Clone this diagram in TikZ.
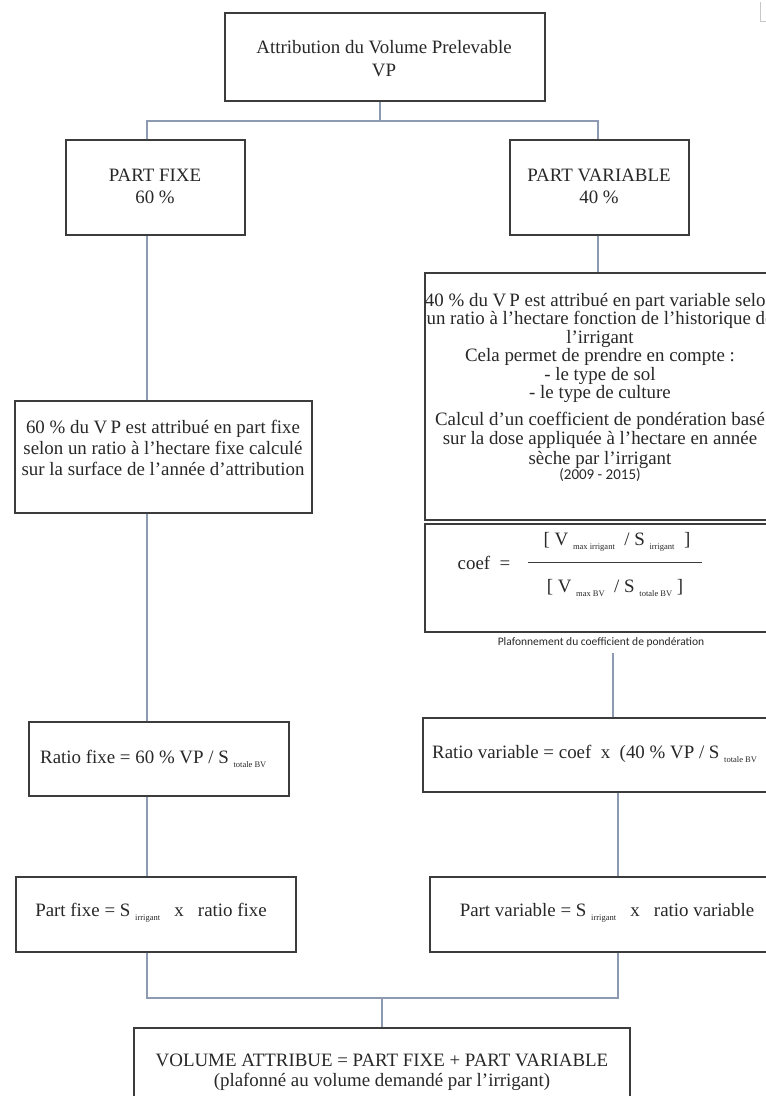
\documentclass[tikz,border=0pt]{standalone}
\usepackage{fontspec}
\setmainfont{Liberation Serif}
\newfontfamily\sansf{Carlito}
\definecolor{boxc}{RGB}{60,60,60}
\definecolor{connc}{RGB}{140,155,178}
\definecolor{txtc}{RGB}{40,40,40}
\newcommand\subt[1]{\raisebox{-3.5pt}{\fontsize{8.5}{9}\selectfont #1}}
\tikzset{
  box/.style={draw=boxc, line width=1.2pt, rectangle, inner sep=0pt, fill=white},
  conn/.style={draw=connc, line width=1.1pt},
  txt/.style={inner sep=0pt, align=center, text=txtc},
  big/.style={font=\fontsize{18.9}{#1}\selectfont},
  big/.default=21
}
\begin{document}
\begin{tikzpicture}[x=1pt,y=-1pt]
\useasboundingbox (0,0) rectangle (766,1096);
\fill[white] (0,0) rectangle (766,1096);
\clip (0,0) rectangle (766,1096);
% corner mark
\draw[black!22, line width=0.8pt] (760,2) -- (760,21) -- (767,21);
% coordinates of connector columns
\coordinate (xt) at (380,0);
\coordinate (xl) at (147,0);
\coordinate (xr) at (598,0);
\coordinate (xr2) at (613,0);
\coordinate (xr3) at (618,0);
\coordinate (xc) at (382,0);
\coordinate (j1) at (380,121);
\coordinate (j2) at (382,998);
% boxes
\node[box, minimum width=320pt, minimum height=88pt] (top) at (385,57) {};
\node[box, minimum width=179pt, minimum height=95pt] (pfixe) at (155.5,187.5) {};
\node[box, minimum width=179pt, minimum height=95pt] (pvar) at (599.5,187.5) {};
\node[box, minimum width=297pt, minimum height=112pt] (fixe) at (163.5,457) {};
\node[box, minimum width=260pt, minimum height=74pt] (rfixe) at (159,759) {};
\node[box, minimum width=280pt, minimum height=75pt] (partf) at (156,914.5) {};
\node[box, minimum width=375pt, minimum height=247pt] (varbox) at (612.5,396.5) {};
\node[box, minimum width=375pt, minimum height=108pt] (coef) at (612.5,578) {};
\node[box, minimum width=377pt, minimum height=74pt] (rvar) at (611.5,755) {};
\node[box, minimum width=370pt, minimum height=75pt] (partv) at (615,914.5) {};
\node[box, minimum width=496pt, minimum height=92pt] (bot) at (382,1074) {};
% texts
\node[txt, big=23] (ttop) at (384,59) {Attribution du Volume Prelevable\\VP};
\node[txt, big=22] (tpfixe) at (155,186) {PART FIXE\\60 \%};
\node[txt, big=22] (tpvar) at (599,186) {PART VARIABLE\\40 \%};
\node[txt, big=21] (tfixe) at (163,448) {60 \% du V\,P est attribué en part fixe\\selon un ratio à l'hectare fixe calculé\\sur la surface de l'année d'attribution};
\node[txt, big=18.4] (tvar1) at (600,348) {40 \% du V\,P est attribué en part variable selon\\un ratio à l'hectare fonction de l'historique de\\l'irrigant\\Cela permet de prendre en compte :\\- le type de sol\\- le type de culture};
\node[txt, big=19.5] (tvar2) at (600,440) {Calcul d'un coefficient de pondération basé\\sur la dose appliquée à l'hectare en année\\sèche par l'irrigant};
\node[txt, font=\sansf\fontsize{15}{16}\selectfont] (tyears) at (600,475) {(2009 - 2015)};
\node[txt, big] (tcoef) at (484,563) {coef\ \ =};
\node[txt, big] (tnum) at (617,542) {[\ V\ \subt{max irrigant}\ \ / S\ \subt{irrigant}\ \ ]};
\node[txt, big] (tden) at (615,588) {[\ V\ \subt{max BV}\ \ / S\ \subt{totale BV}\ ]};
\coordinate (fr1) at (528,562);
\coordinate (fr2) at (702,562);
\draw[boxc, line width=1pt] (fr1) -- (fr2);
\node[txt, font=\sansf\fontsize{11.5}{12}\selectfont] (plaf) at (601,642) {Plafonnement du coefficient de pondération};
\node[txt, big, anchor=west] (trfixe) at (40,759) {Ratio fixe = 60 \% VP / S \subt{totale BV}};
\node[txt, big, anchor=west] (trvar) at (432,754) {Ratio variable = coef\ \ x\ \ (40 \% VP / S \subt{totale BV}};
\node[txt, big] (tpartf) at (151,913) {Part fixe = S \subt{irrigant}\ \ \ x\ \ \ ratio fixe};
\node[txt, big] (tpartv) at (607,913) {Part variable = S \subt{irrigant}\ \ \ x\ \ \ ratio variable};
\node[txt, big=20] (tbot) at (382,1072) {VOLUME ATTRIBUE = PART FIXE + PART VARIABLE\\(plafonné au volume demandé par l'irrigant)};
% connectors
\draw[conn] (top.south -| xt) -- (j1);
\draw[conn] (pfixe.north -| xl) |- (j1) -| (pvar.north -| xr);
\draw[conn] (pfixe.south -| xl) -- (fixe.north -| xl);
\draw[conn] (fixe.south -| xl) -- (rfixe.north -| xl);
\draw[conn] (rfixe.south -| xl) -- (partf.north -| xl);
\draw[conn] (pvar.south -| xr) -- (varbox.north -| xr);
\coordinate (pl) at (613,653);
\draw[conn] (pl) -- (rvar.north -| xr2);
\draw[conn] (rvar.south -| xr3) -- (partv.north -| xr3);
\draw[conn] (partf.south -| xl) |- (j2);
\draw[conn] (partv.south -| xr3) |- (j2);
\draw[conn] (j2) -- (bot.north -| xc);
\end{tikzpicture}
\end{document}
